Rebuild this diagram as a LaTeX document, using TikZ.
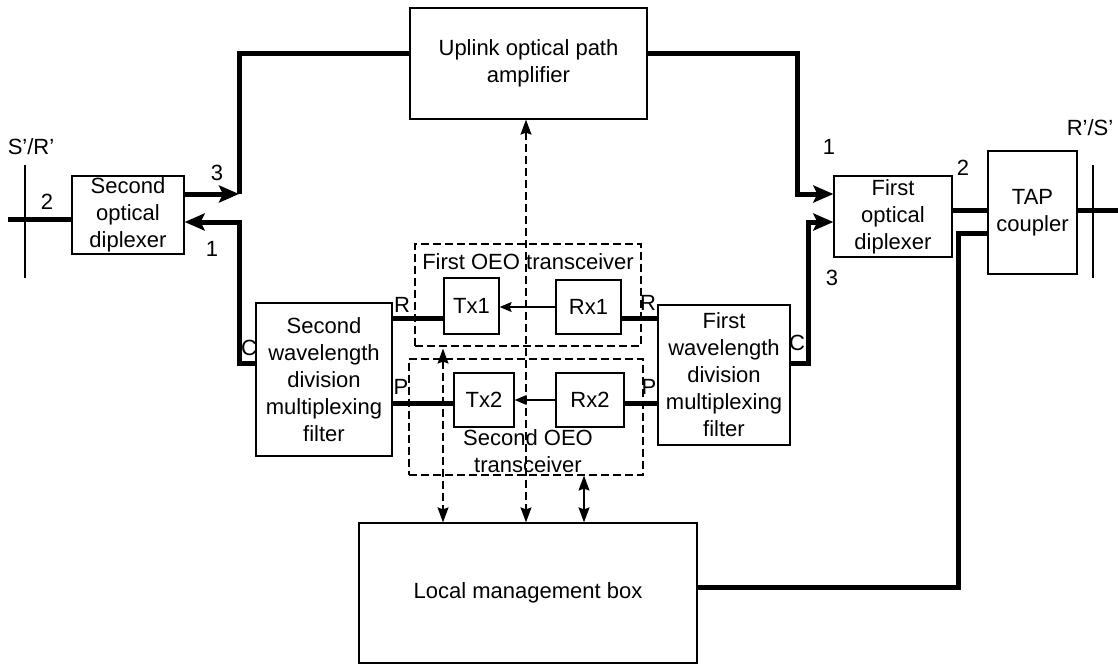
\documentclass[tikz,border=0pt]{standalone}
\usepackage{fontspec}
\setmainfont{Liberation Sans}
\usetikzlibrary{arrows.meta,positioning}

\begin{document}
\begin{tikzpicture}[
    x=1pt, y=-1pt,
    every node/.style={font=\fontsize{22}{27}\selectfont},
    block/.style={rectangle, draw, line width=1.3pt, align=center, inner sep=0pt},
    oeo/.style={rectangle, draw, line width=1.2pt, dash pattern=on 8pt off 4pt, inner sep=0pt},
    fibre/.style={line width=5pt},
    fibrearrow/.style={line width=5pt, -{Stealth[length=20pt,width=17pt,inset=4pt]}},
    signal/.style={line width=1.2pt, -{Stealth[length=12pt,width=10pt,inset=2pt]}},
    mgmt/.style={line width=1.3pt, {Stealth[length=15pt,width=11pt,inset=2pt]}-{Stealth[length=15pt,width=11pt,inset=2pt]}},
    port/.style={inner sep=0pt}
]
    \useasboundingbox (0,0) rectangle (1118,664);

    % Amplifier and management
    \node[block, minimum width=237pt, minimum height=111pt] (uplink) at (528.5,63.5) {Uplink optical path\\amplifier};
    \node[block, minimum width=338pt, minimum height=140pt] (lmb) at (528,593) {Local management box};

    % Diplexers and coupler
    \node[block, minimum width=112pt, minimum height=78pt] (diplex2) at (128,215) {Second\\optical\\diplexer};
    \node[block, minimum width=118pt, minimum height=81pt] (diplex1) at (893,216.5) {First\\optical\\diplexer};
    \node[block, minimum width=89pt, minimum height=123pt] (tap) at (1032.5,212.5) {TAP\\coupler};

    % WDM filters
    \node[block, minimum width=136pt, minimum height=153pt] (wdm2) at (324,379.5) {Second\\wavelength\\division\\multiplexing\\filter};
    \node[block, minimum width=132pt, minimum height=140pt] (wdm1) at (724,375) {First\\wavelength\\division\\multiplexing\\filter};

    % OEO transceivers
    \node[oeo, minimum width=226pt, minimum height=102pt] (oeo1) at (528,295) {};
    \node[oeo, minimum width=234pt, minimum height=116pt] (oeo2) at (526,417) {};
    \node (oeo1txt) at (528,262) {First OEO transceiver};
    \node[align=center] (oeo2txt) at (528,451) {Second OEO\\transceiver};
    \node[block, minimum width=55pt, minimum height=56pt] (tx1) at (471.5,306) {Tx1};
    \node[block, minimum width=65pt, minimum height=54pt] (rx1) at (588.5,307) {Rx1};
    \node[block, minimum width=60pt, minimum height=54pt] (tx2) at (484,400) {Tx2};
    \node[block, minimum width=68pt, minimum height=54pt] (rx2) at (590,400) {Rx2};

    % Bends of the fibre paths
    \coordinate (srend) at (8,219);
    \coordinate (rsend) at (1118,210);
    \coordinate (lup) at (239,53);
    \coordinate (lout) at (239,194);
    \coordinate (lin) at (239,222);
    \coordinate (lc) at (239,363);
    \coordinate (rup) at (797,53);
    \coordinate (rin) at (797,194);
    \coordinate (rout) at (808,222);
    \coordinate (rc) at (808,363);
    \coordinate (tapout) at (958,233);
    \coordinate (tapdown) at (958,587);
    \coordinate (rport) at (0,318);
    \coordinate (pport) at (0,403);
    \coordinate (m1) at (443,0);
    \coordinate (m2) at (526,0);
    \coordinate (m3) at (584,0);

    % Reference points
    \draw[line width=1.5pt] (25,165) -- (25,278);
    \draw[line width=1.5pt] (1093,165) -- (1093,278);
    \node[port] (lsr) at (31,147) {S'/R'};
    \node[port] (lrs) at (1090,128) {R'/S'};

    % Fibres
    \draw[fibre] (srend) -- (diplex2.west |- srend);
    \draw[fibrearrow] (diplex2.east |- lout) -- (lout);
    \draw[fibre] (lout) -- (lup) -- (uplink.west |- lup);
    \draw[fibrearrow] (wdm2.west |- lc) -- (lc) -- (lin) -- (diplex2.east |- lin);
    \draw[fibrearrow] (uplink.east |- rup) -- (rup) -- (rin) -- (diplex1.west |- rin);
    \draw[fibrearrow] (wdm1.east |- rc) -- (rc) -- (rout) -- (diplex1.west |- rout);
    \draw[fibre] (diplex1.east |- rsend) -- (tap.west |- rsend);
    \draw[fibre] (tap.east |- rsend) -- (rsend);
    \draw[fibre] (tap.west |- tapout) -- (tapout) -- (tapdown) -- (lmb.east |- tapdown);
    \draw[fibre] (wdm2.east |- rport) -- (tx1.west |- rport);
    \draw[fibre] (wdm2.east |- pport) -- (tx2.west |- pport);
    \draw[fibre] (rx1.east |- rport) -- (wdm1.west |- rport);
    \draw[fibre] (rx2.east |- pport) -- (wdm1.west |- pport);

    % Electrical links
    \draw[signal] (rx1.west) -- (tx1.east |- rx1.west);
    \draw[signal] (rx2.west) -- (tx2.east |- rx2.west);

    % Management links
    \draw[mgmt, dash pattern=on 8pt off 4pt] ([yshift=-2pt]oeo1.south -| m1) -- (lmb.north -| m1);
    \draw[mgmt, dash pattern=on 8pt off 4pt] (uplink.south -| m2) -- (lmb.north -| m2);
    \draw[mgmt] (oeo2.south -| m3) -- (lmb.north -| m3);

    % Port labels
    \node[port] (p2l) at (47,202) {2};
    \node[port] (p3l) at (217,173) {3};
    \node[port] (p1l) at (212,249) {1};
    \node[port] (p1r) at (829,147) {1};
    \node[port] (p3r) at (832,278) {3};
    \node[port] (p2r) at (963,168) {2};
    \node[port] (rl) at (402,305) {R};
    \node[port] (pl) at (401,387) {P};
    \node[port] (cl) at (249,348) {C};
    \node[port] (rr) at (648,303) {R};
    \node[port] (pr) at (649,387) {P};
    \node[port] (cr) at (797,343) {C};
\end{tikzpicture}
\end{document}
